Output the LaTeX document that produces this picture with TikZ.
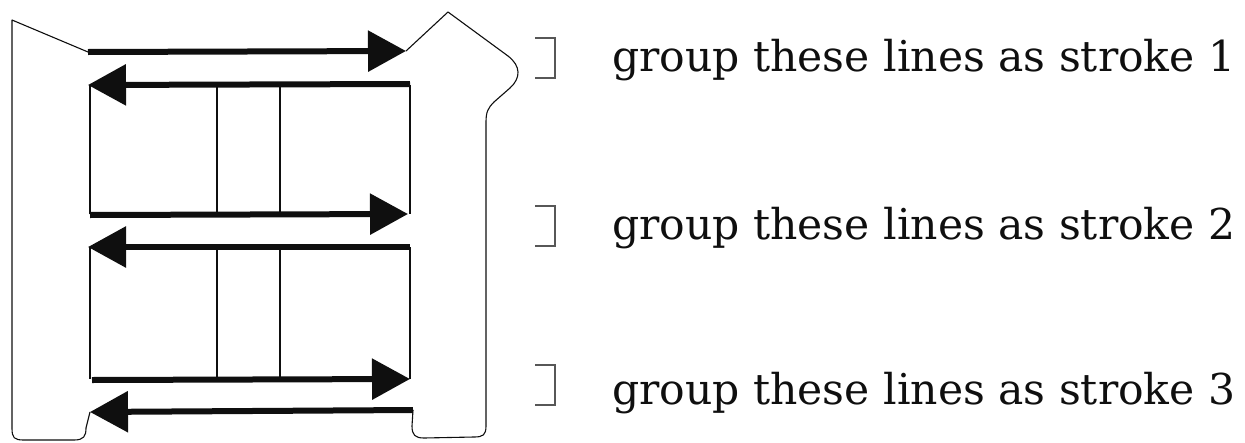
\documentclass[tikz,border=0pt]{standalone}
\usepackage{fontspec}
\setmainfont{DejaVu Serif}
\usepackage{xcolor}
\definecolor{InkBlack}{RGB}{15,15,15}
\usetikzlibrary{arrows.meta, positioning}
\tikzset{
  % thin pencil outline
  outline/.style={draw=InkBlack, line width=1.1pt, line join=round},
  % grid lines between the strokes
  gridline/.style={draw=InkBlack, line width=1.1pt},
  % heavy stroke arrows
  strokearr/.style={-{Triangle[length=38pt,width=40pt]}, line width=6pt, InkBlack},
  % small bracket marks
  bracket/.style={draw=InkBlack!70, line width=1.1pt},
  % caption text
  caption/.style={anchor=base west, inner sep=0pt, font=\fontsize{42.5}{46}\selectfont, text=InkBlack},
}

\begin{document}
\begin{tikzpicture}[x=1pt, y=-1pt]
  \useasboundingbox (0,0) rectangle (1245,442);

  %% Arrow end points
  \coordinate (r1a) at (88,52);   \coordinate (r1b) at (406,51);
  \coordinate (l1a) at (410,84);  \coordinate (l1b) at (88,85);
  \coordinate (r2a) at (90,215);  \coordinate (r2b) at (408,214);
  \coordinate (l2a) at (410,247); \coordinate (l2b) at (88,247);
  \coordinate (r3a) at (92,380);  \coordinate (r3b) at (410,379);
  \coordinate (l3a) at (413,410); \coordinate (l3b) at (90,412);

  %% Outline
  \draw[outline] (r1a) -- (12,20) -- (12,428)
    .. controls (12,438) and (14,440) .. (24,440) -- (74,440)
    .. controls (84,440) and (86,436) .. (86,428) -- (l3b);
  \draw[outline] (r1b) -- (448,12) -- (508,56)
    .. controls (521,66) and (521,78) .. (510,88)
    -- (494,102) .. controls (488,108) and (486,112) .. (486,122)
    -- (486,426) .. controls (486,435) and (483,437) .. (474,437)
    -- (424,438) .. controls (415,438) and (412,435) .. (412,426) -- (l3a);

  %% Grid
  \foreach \gx in {90,217,280,410} {
    \draw[gridline] (\gx,85) -- (\gx,214);
    \draw[gridline] (\gx,247) -- (\gx,379);
  }

  %% Strokes
  \draw[strokearr] (r1a) -- (r1b);
  \draw[strokearr] (l1a) -- (l1b);
  \draw[strokearr] (r2a) -- (r2b);
  \draw[strokearr] (l2a) -- (l2b);
  \draw[strokearr] (r3a) -- (r3b);
  \draw[strokearr] (l3a) -- (l3b);

  %% Brackets and captions
  \draw[bracket] (535,38) -- (555,38) -- (555,78) -- (535,78);
  \draw[bracket] (535,206) -- (555,206) -- (555,246) -- (535,246);
  \draw[bracket] (535,365) -- (555,365) -- (555,405) -- (535,405);

  \node[caption] (cap1) at (612,71) {group these lines as stroke 1};
  \node[caption] (cap2) at (612,239) {group these lines as stroke 2};
  \node[caption] (cap3) at (612,404) {group these lines as stroke 3};
\end{tikzpicture}
\end{document}
